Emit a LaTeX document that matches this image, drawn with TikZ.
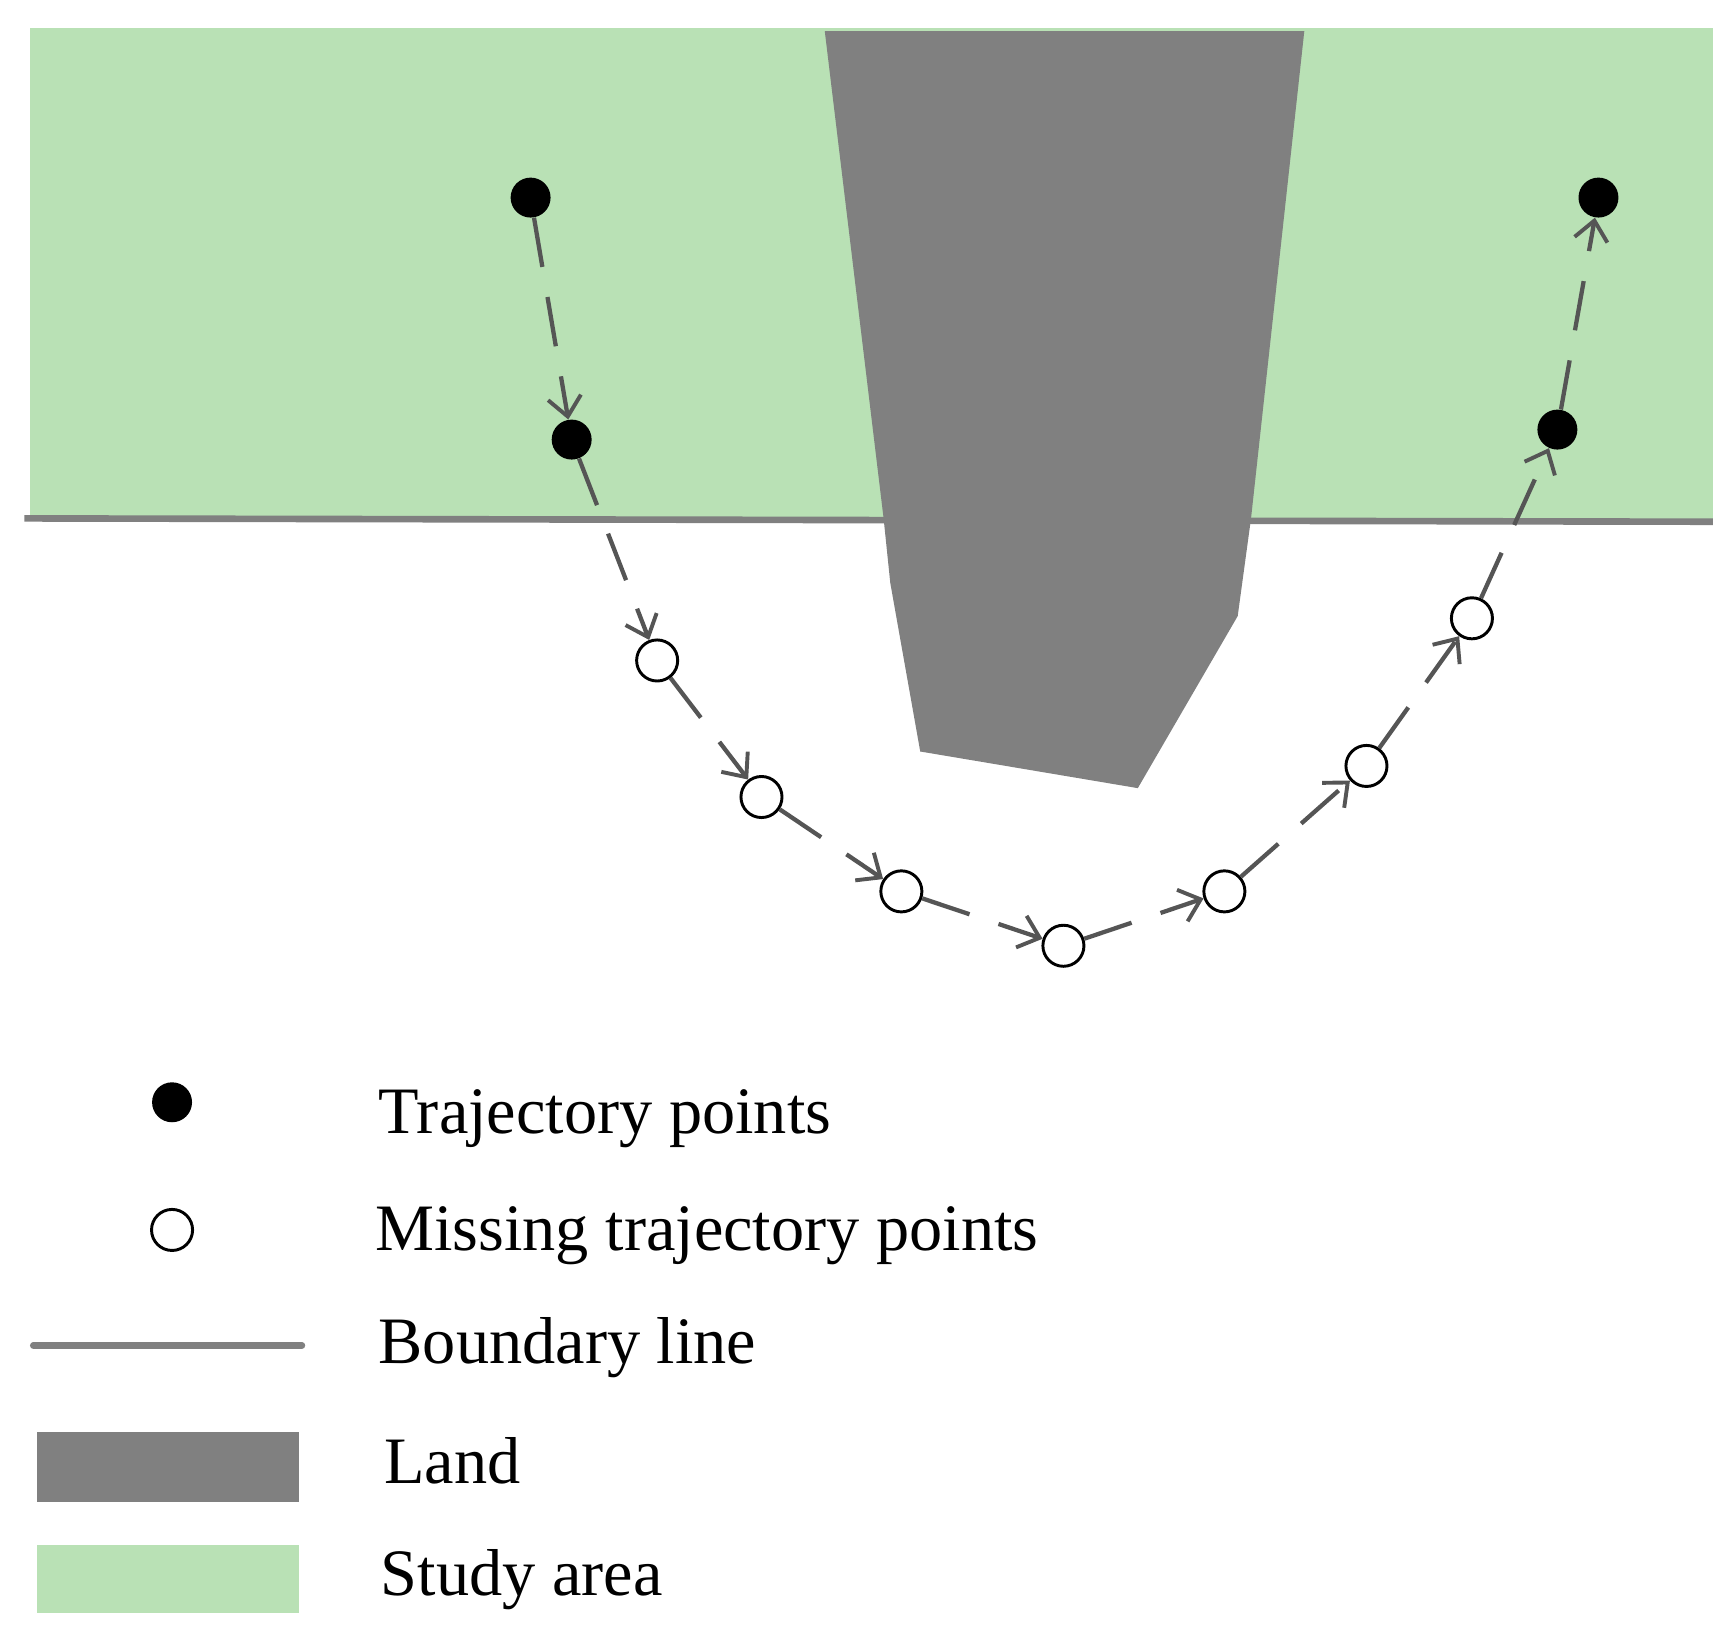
\documentclass[tikz,border=0pt]{standalone}
\usepackage{fontspec}
\setmainfont{Liberation Serif}
\usetikzlibrary{arrows.meta}
\definecolor{study}{HTML}{B9E1B5}
\definecolor{land}{HTML}{808080}
\definecolor{trk}{HTML}{555555}
\begin{document}
\begin{tikzpicture}[x=0.02cm,y=-0.02cm,
  tp/.style={circle,fill=black,minimum size=0.72cm,inner sep=0pt},
  mp/.style={circle,draw=black,line width=1.5pt,fill=white,minimum size=0.74cm,inner sep=0pt},
  seg/.style={draw=trk,line width=2.2pt,dash pattern=on 0.9cm off 0.55cm,-{Straight Barb[length=0.35cm,width=0.6cm,line width=2pt]}},
  lbl/.style={anchor=west,font=\fontsize{34}{40}\selectfont}]
\useasboundingbox (0,0) rectangle (1563,1478);
\fill[study] (27,25) rectangle (1543,469);
\fill[land] (743,28) -- (1175,28) -- (1127,467) -- (1115,555) -- (1025,710) -- (829,677) -- (802,525) -- (796,467) -- cycle;
\draw[land,line width=3.4pt] (22,467) -- (1543,470);
\node[tp] (a1) at (478,178) {};
\node[tp] (a2) at (515,396) {};
\node[mp] (b1) at (592,595) {};
\node[mp] (b2) at (686,718) {};
\node[mp] (b3) at (812,803) {};
\node[mp] (b4) at (958,852) {};
\node[mp] (b5) at (1103,803) {};
\node[mp] (b6) at (1231,690) {};
\node[mp] (b7) at (1326,557) {};
\node[tp] (a3) at (1403,387) {};
\node[tp] (a4) at (1440,178) {};
\foreach \u/\v in {a1/a2,a2/b1,b1/b2,b2/b3,b3/b4,b4/b5,b5/b6,b6/b7,b7/a3,a3/a4}
  \draw[seg] (\u) -- (\v);
\node[tp] (l1) at (155,993) {};
\node[mp] (l2) at (155,1108) {};
\coordinate (l3a) at (30,1212); \coordinate (l3b) at (272,1212);
\draw[land,line width=3.4pt,line cap=round] (l3a) -- (l3b);
\fill[land] (33,1290) rectangle (269,1353);
\fill[study] (33,1392) rectangle (269,1453);
\node[lbl] (t1) at (335,1008) {Trajectory points};
\node[lbl] (t2) at (332,1113) {Missing trajectory points};
\node[lbl] (t3) at (335,1214) {Boundary line};
\node[lbl] (t4) at (340,1316) {Land};
\node[lbl] (t5) at (337,1423) {Study area};
\end{tikzpicture}
\end{document}
